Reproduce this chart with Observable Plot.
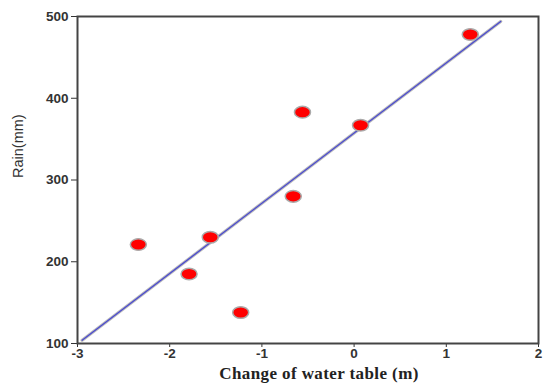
<!DOCTYPE html>
<html>
<head>
<meta charset="utf-8">
<script src="https://cdn.jsdelivr.net/npm/d3@7"></script>
<script src="https://cdn.jsdelivr.net/npm/@observablehq/plot@0.6"></script>
<style>
  html, body { margin: 0; padding: 0; background: #fff; }
  .xlab text { letter-spacing: 0.4px; }
</style>
</head>
<body>
<div id="chart"></div>
<script>
// Data
const waterChange = [-2.34, -1.79, -1.56, -1.23, -0.66, -0.56, 0.07, 1.26];
const rain = [221, 185, 230, 138, 280, 383, 367, 478];
// fitted line endpoints (as drawn)
const fitX = [-2.95, 1.59];
const fitY = [104, 494];
const xTicks = [-3, -2, -1, 0, 1, 2];
const yTicks = [100, 200, 300, 400, 500];
const xLabel = "Change of water table (m)";
const yLabel = "Rain(mm)";

const points = waterChange.map((x, i) => ({x, y: rain[i]}));
const fit = fitX.map((x, i) => ({x, y: fitY[i]}));

const ellipse = {
  draw(context, size) {
    const s = Math.sqrt(size / Math.PI);
    const rx = s * 1.18, ry = s * 0.85;
    const k = 0.5523;
    context.moveTo(rx, 0);
    context.bezierCurveTo(rx, ry * k, rx * k, ry, 0, ry);
    context.bezierCurveTo(-rx * k, ry, -rx, ry * k, -rx, 0);
    context.bezierCurveTo(-rx, -ry * k, -rx * k, -ry, 0, -ry);
    context.bezierCurveTo(rx * k, -ry, rx, -ry * k, rx, 0);
    context.closePath();
  }
};

const chart = Plot.plot({
  width: 544,
  height: 385,
  marginLeft: 77,
  marginRight: 6,
  marginTop: 16,
  marginBottom: 42,
  style: {background: "#fff", fontFamily: "Liberation Sans, Arial, sans-serif"},
  x: {domain: [-3, 2]},
  y: {domain: [100, 500]},
  marks: [
    Plot.axisY({ticks: yTicks, tickFormat: d => String(d), tickSize: 6, tickPadding: 3, fontSize: 13.5, fontWeight: "bold", fill: "#333", stroke: "#333", label: null}),
    Plot.axisX({ticks: xTicks, tickFormat: d => String(d), tickSize: 4, tickPadding: 1, fontSize: 13.5, fontWeight: "bold", fill: "#333", stroke: "#333", label: null}),
    Plot.line(fit, {x: "x", y: "y", stroke: "#bbb", strokeWidth: 3.2}),
    Plot.line(fit, {x: "x", y: "y", stroke: "#4a4ad0", strokeWidth: 1.3}),
    Plot.dot(points, {x: "x", y: "y", r: 6.8, symbol: ellipse, fill: "#ff0000", stroke: "#aaa", strokeWidth: 1.5}),
    Plot.frame({stroke: "#444", strokeWidth: 2}),
    Plot.text([yLabel], {frameAnchor: "left", dx: -59, dy: -2, rotate: -90, fontSize: 14.5, fill: "#333", fontFamily: "Liberation Sans, Arial, sans-serif"}),
    Plot.text([xLabel], {frameAnchor: "bottom", dy: 35, dx: 11, fontSize: 17, fontWeight: "bold", fill: "#222", fontFamily: "Liberation Serif, Times New Roman, serif", className: "xlab"})
  ]
});
document.getElementById("chart").appendChild(chart);
</script>
</body>
</html>
